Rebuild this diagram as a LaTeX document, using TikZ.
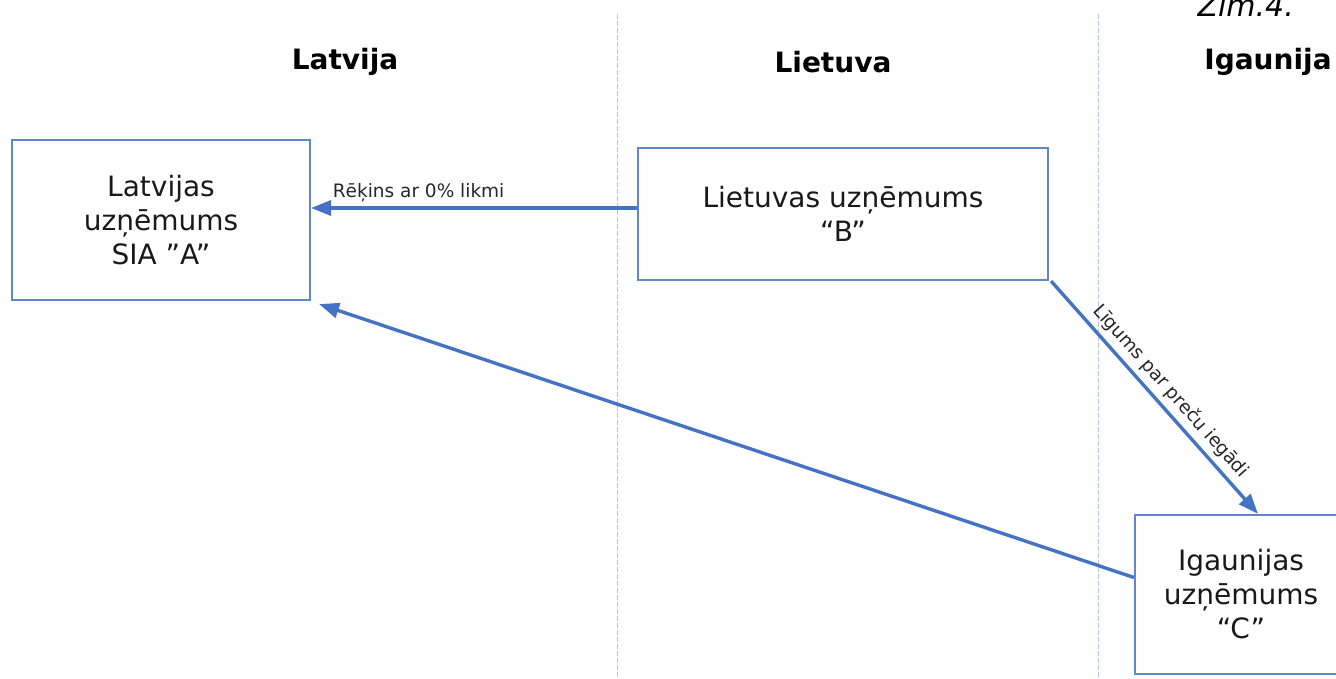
\documentclass[tikz,border=0pt]{standalone}
\usepackage{fontspec}
\setmainfont{DejaVu Sans}
\usetikzlibrary{arrows.meta,calc}
\definecolor{boxblue}{HTML}{4472C4}
\definecolor{lineblue}{HTML}{B4C7E7}
\tikzset{
  entity/.style={draw=boxblue!85, line width=2.2pt, align=center, inner sep=0pt,
    font=\fontsize{28}{34}\selectfont, text=black!90},
  header/.style={font=\fontsize{28}{32}\selectfont\bfseries, text=black},
  flow/.style={draw=boxblue, line width=3.4pt, -{Triangle[length=20pt,width=15pt]}},
  lbl/.style={font=\fontsize{18.5}{20}\selectfont, text=black!85},
  divider/.style={draw=lineblue, line width=1pt, dash pattern=on 5pt off 2pt}
}
\begin{document}
\begin{tikzpicture}[x=1pt,y=-1pt]
\useasboundingbox (0,0) rectangle (1336,679);
\begin{scope}
\clip (0,0) rectangle (1336,679);
% dividers
\coordinate (d1t) at (617,14);
\coordinate (d1b) at (617,679);
\coordinate (d2t) at (1098,14);
\coordinate (d2b) at (1098,679);
\draw[divider] (d1t) -- (d1b);
\draw[divider] (d2t) -- (d2b);
% title
\node[font=\fontsize{30}{32}\selectfont\itshape, anchor=base west] (zim) at (1194,17) {Zīm.4.};
% headers
\node[header] (hLV) at (345,62) {Latvija};
\node[header] (hLT) at (833,62) {Lietuva};
\node[header] (hEE) at (1268,62) {Igaunija};
% boxes
\node[entity, minimum width=298pt, minimum height=160pt] (A) at (161,220) {Latvijas\\uzņēmums\\SIA ”A”};
\node[entity, minimum width=410pt, minimum height=132pt] (B) at (843,214) {Lietuvas uzņēmums\\“B”};
\node[entity, minimum width=212pt, minimum height=159pt] (C) at (1241,594.5) {Igaunijas\\uzņēmums\\“C”};
% connectors
\draw[flow] ([yshift=6pt]B.west) -- ([yshift=6pt]B.west -| A.east)
  node[lbl, pos=0.67, above=1pt] {Rēķins ar 0\% likmi};
\draw[flow] ([xshift=2pt]B.south east) -- ([xshift=17pt]C.north)
  node[lbl, pos=0.52, sloped, above=2pt] {Līgums par preču iegādi};
\draw[flow] ([yshift=17pt]C.west) -- ([xshift=8pt,yshift=-3pt]A.south east);
\end{scope}
\end{tikzpicture}
\end{document}
